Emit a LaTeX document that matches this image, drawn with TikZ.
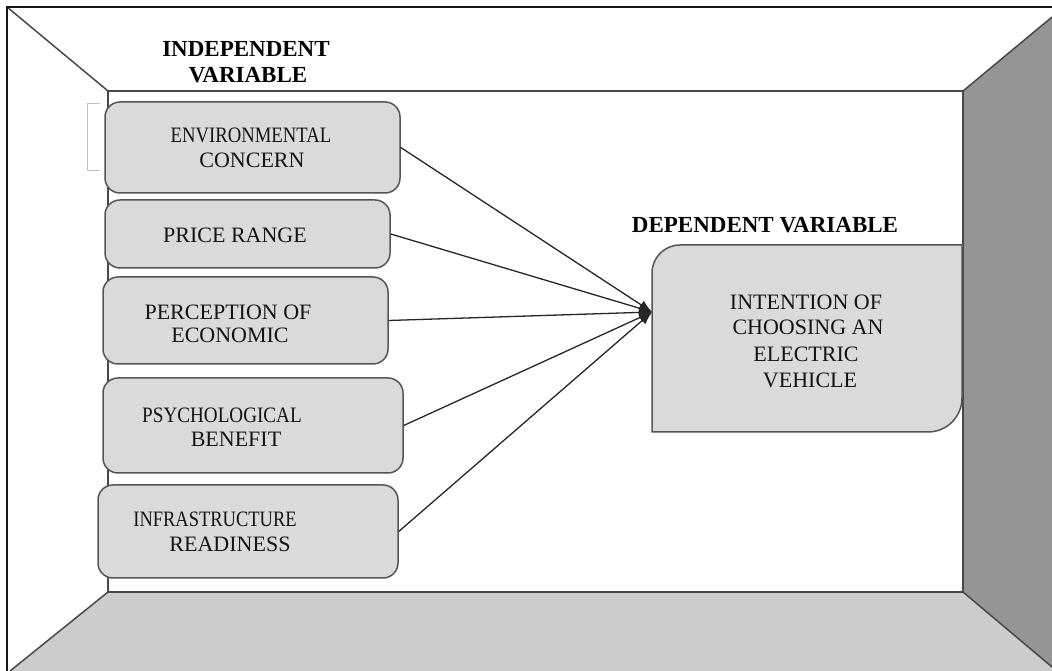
\documentclass[tikz,border=0pt]{standalone}
\usepackage{fontspec}
\setmainfont{Liberation Serif}
\usetikzlibrary{arrows.meta}
\definecolor{boxfill}{HTML}{DADADA}
\definecolor{boxline}{HTML}{555555}
\definecolor{floorgray}{HTML}{CCCCCC}
\definecolor{wallgray}{HTML}{959595}
\definecolor{edgegray}{HTML}{484848}
\begin{document}
\begin{tikzpicture}[x=1pt,y=1pt,
  varbox/.style={draw=boxline, fill=boxfill, line width=1.5pt, rounded corners=15pt, inner sep=0pt},
  boxtext/.style={anchor=base, inner sep=0pt, font=\fontsize{22}{26}\selectfont, text=black!92},
  heading/.style={anchor=base, inner sep=0pt, font=\fontsize{23}{27}\selectfont\bfseries, text=black},
  link/.style={draw=black!85, line width=1.3pt, -{Latex[length=13pt,width=10pt]}},
  wall/.style={draw=edgegray, line width=1.5pt}]
\useasboundingbox (0,0) rectangle (1052,671);

% floor and right-hand wall
\fill[floorgray] (108,79) -- (963,79) -- (1052,4) -- (1052,0) -- (10,0) -- cycle;
\fill[wallgray] (963,79) -- (963,580) -- (1052,654) -- (1052,4) -- cycle;

% room edges
\draw[wall] (108,79) rectangle (963,580);
\draw[wall] (108,580) -- (7,664);
\draw[wall] (963,580) -- (1052,654);
\draw[wall] (108,79) -- (10,0);
\draw[wall] (963,79) -- (1052,4);

% outer frame
\draw[black!90, line width=2pt] (7,0) -- (7,664) -- (1052,664);

% faint bracket beside the first box
\draw[black!25, line width=0.8pt] (100,568) -- (87,568) -- (87,501) -- (100,501);

% headings
\node[heading] (indep1) at (246,614) {INDEPENDENT};
\node[heading] (indep2) at (248,588) {VARIABLE};
\node[heading] (dep) at (765,438) {DEPENDENT VARIABLE};

% independent variable boxes
\node[varbox, minimum width=295pt, minimum height=91pt] (b1) at (252.5,523.5) {};
\node[varbox, minimum width=285pt, minimum height=68pt] (b2) at (247.5,437) {};
\node[varbox, minimum width=285pt, minimum height=87pt] (b3) at (245.5,350.5) {};
\node[varbox, minimum width=300pt, minimum height=95pt] (b4) at (253,245.5) {};
\node[varbox, minimum width=300pt, minimum height=93pt] (b5) at (248,139.5) {};

\node[boxtext] (t1a) at (251,528) {\scalebox{0.85}[1]{ENVIRONMENTAL}};
\node[boxtext] (t1b) at (252,503) {CONCERN};
\node[boxtext] (t2a) at (235,428) {PRICE RANGE};
\node[boxtext] (t3a) at (228,351) {PERCEPTION OF};
\node[boxtext] (t3b) at (230,328) {ECONOMIC};
\node[boxtext] (t4a) at (222,248) {\scalebox{0.87}[1]{PSYCHOLOGICAL}};
\node[boxtext] (t4b) at (236,224) {BENEFIT};
\node[boxtext] (t5a) at (215,144) {\scalebox{0.84}[1]{INFRASTRUCTURE}};
\node[boxtext] (t5b) at (230,119) {READINESS};

% dependent variable box
\draw[draw=boxline, fill=boxfill, line width=1.5pt]
  (652,239) -- (652,398) arc[start angle=180, end angle=90, radius=28pt]
  -- (962,426) -- (962,273) arc[start angle=0, end angle=-90, radius=34pt] -- cycle;
\node[boxtext] (d1) at (806,361) {INTENTION OF};
\node[boxtext] (d2) at (808,336) {CHOOSING AN};
\node[boxtext] (d3) at (806,309) {ELECTRIC};
\node[boxtext] (d4) at (810,283) {VEHICLE};

% connectors
\coordinate (hub) at (652,359);
\foreach \b in {b1,b2,b3,b4,b5}
  \draw[link] (\b.east) -- (hub);
\end{tikzpicture}
\end{document}
